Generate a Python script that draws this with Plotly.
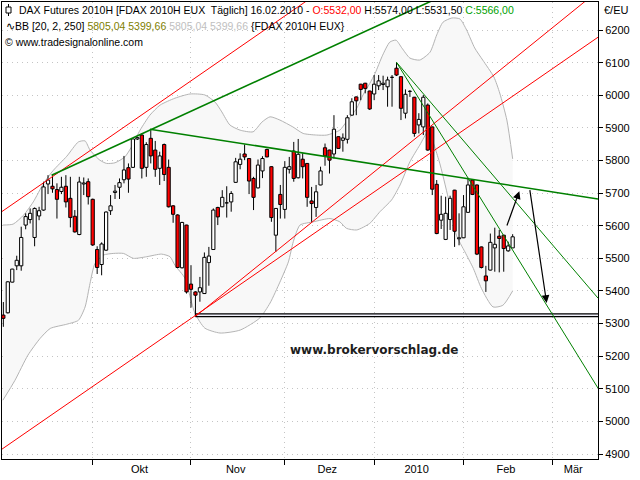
import plotly.graph_objects as go
import pandas as pd

# ---------------- data ----------------
opens = [5326, 5333, 5427, 5477, 5477, 5602, 5619, 5564, 5630, 5648,
         5728, 5721, 5711, 5705, 5721, 5684, 5629, 5573, 5728, 5735,
         5681, 5527, 5481, 5525, 5646, 5702, 5718, 5741, 5778, 5779,
         5866, 5878, 5779, 5868, 5832, 5776, 5849, 5779, 5661, 5633,
         5471, 5602, 5421, 5397, 5397, 5392, 5487, 5527, 5656, 5658,
         5670, 5673, 5733, 5788, 5820, 5806, 5745, 5716, 5768, 5834,
         5781, 5571, 5696, 5650, 5773, 5829, 5747, 5804, 5791, 5676,
         5656, 5725, 5839, 5832, 5820, 5873, 5862, 5865, 5939, 5995,
         6034, 6037, 6013, 6004, 6029, 6033, 6026, 6055, 6083, 6057,
         5945, 6012, 5994, 5909, 5903, 5970, 5903, 5727, 5617, 5558,
         5619, 5709, 5560, 5563, 5641, 5740, 5725, 5535, 5446, 5464,
         5532, 5568, 5571, 5523, 5532]
highs = [5366, 5430, 5468, 5508, 5597, 5638, 5653, 5656, 5658, 5735,
         5755, 5755, 5730, 5750, 5755, 5750, 5648, 5750, 5748, 5745,
         5683, 5537, 5549, 5644, 5694, 5725, 5745, 5814, 5791, 5868,
         5873, 5883, 5856, 5893, 5860, 5827, 5852, 5803, 5663, 5635,
         5612, 5603, 5479, 5399, 5443, 5518, 5535, 5653, 5658, 5709,
         5721, 5706, 5808, 5822, 5849, 5807, 5750, 5803, 5813, 5836,
         5782, 5654, 5725, 5798, 5811, 5857, 5866, 5822, 5792, 5719,
         5725, 5781, 5852, 5833, 5939, 5874, 5883, 5939, 5991, 5996,
         6035, 6038, 6014, 6062, 6062, 6060, 6057, 6062, 6101, 6058,
         6018, 6016, 5995, 5945, 6001, 5975, 5904, 5740, 5692, 5689,
         5692, 5710, 5638, 5694, 5747, 5743, 5726, 5536, 5477, 5576,
         5594, 5587, 5572, 5551, 5574]
lows = [5290, 5331, 5426, 5464, 5462, 5589, 5607, 5537, 5617, 5646,
        5697, 5701, 5622, 5697, 5656, 5595, 5579, 5571, 5694, 5665,
        5538, 5452, 5448, 5523, 5633, 5682, 5682, 5730, 5701, 5777,
        5863, 5745, 5750, 5791, 5750, 5725, 5737, 5656, 5609, 5470,
        5469, 5392, 5349, 5322, 5367, 5391, 5416, 5526, 5602, 5657,
        5625, 5643, 5732, 5773, 5801, 5697, 5648, 5714, 5746, 5810,
        5612, 5520, 5622, 5622, 5760, 5735, 5745, 5745, 5658, 5612,
        5627, 5724, 5784, 5760, 5806, 5836, 5827, 5852, 5938, 5939,
        5985, 6006, 5955, 5985, 6016, 6016, 5965, 5965, 6059, 5924,
        5929, 5995, 5873, 5883, 5878, 5830, 5694, 5574, 5590, 5556,
        5587, 5535, 5540, 5562, 5640, 5694, 5510, 5469, 5397, 5463,
        5459, 5457, 5459, 5520, 5531.5]
closes = [5316, 5428, 5467, 5494, 5564, 5628, 5638, 5653, 5646, 5719,
          5740, 5713, 5681, 5718, 5673, 5625, 5581, 5734, 5731, 5689,
          5541, 5472, 5544, 5642, 5661, 5706, 5732, 5771, 5743, 5866,
          5870, 5776, 5849, 5814, 5773, 5814, 5757, 5658, 5635, 5472,
          5610, 5397, 5405, 5387, 5410, 5503, 5507, 5648, 5627, 5687,
          5672, 5699, 5796, 5804, 5811, 5737, 5687, 5786, 5806, 5811,
          5625, 5653, 5665, 5779, 5781, 5745, 5819, 5781, 5687, 5668,
          5704, 5768, 5814, 5801, 5896, 5837, 5869, 5931, 5980, 5983,
          6018, 6021, 5958, 6034, 6044, 6037, 6047, 6057, 6062, 5960,
          6003, 6013, 5883, 5926, 5994, 5832, 5712, 5576, 5635, 5638,
          5684, 5583, 5563, 5658, 5725, 5696, 5513, 5472, 5431, 5549,
          5543, 5561, 5530, 5538, 5566]

# Bollinger band (20, 2): (bar index, value)
bb_upper_idx = [0.9, 3.2, 5.5, 7.7, 10.0, 12.2, 15.2, 17.8, 19.3, 20.4, 22.6, 24.1, 26.0,
                28.2, 29.7, 31.6, 33.8, 36.1, 39.4, 42.8, 46.1, 48.4, 49.9, 51.7, 54.0,
                56.9, 58.9, 60.7, 62.9, 65.8, 68.1, 71.1, 73.4, 76.3, 77.8, 80.1, 81.5,
                83.0, 84.2, 85.9, 87.5, 88.9, 90.2, 92.0, 94.2, 96.5, 98.0, 99.4, 101.4,
                103.2, 104.7, 106.5, 108.3, 110.8, 112.1, 113.7, 115.0]
bb_upper_val = [5602, 5605, 5632, 5673, 5730, 5770, 5813, 5857, 5860, 5832, 5801, 5791, 5793,
                5811, 5842, 5893, 5939, 5970, 5991, 6004, 6001, 5979, 5949, 5909, 5893,
                5888, 5918, 5934, 5924, 5903, 5883, 5878, 5878, 5893, 5919, 5960, 6001,
                6036, 6067, 6123, 6163, 6169, 6145, 6114, 6108, 6132, 6185, 6224, 6237,
                6234, 6200, 6145, 6108, 6056, 6007, 5924, 5805]
bb_lower_idx = [0.9, 3.6, 6.5, 9.2, 11.5, 15.2, 17.8, 19.3, 20.4, 21.5, 23.4, 25.6, 27.9,
                30.1, 33.1, 36.4, 38.3, 39.4, 41.7, 42.8, 43.9, 46.1, 49.5, 54.0, 58.4,
                60.7, 62.9, 64.8, 65.9, 67.4, 70.4, 74.1, 76.3, 77.8, 80.1, 83.0, 85.3,
                87.9, 89.8, 92.0, 94.2, 96.1, 98.5, 100.6, 102.4, 104.3, 106.2, 108.0,
                110.6, 112.8, 115.0]
bb_lower_val = [5065, 5126, 5203, 5254, 5285, 5298, 5310, 5351, 5423, 5484, 5510, 5515, 5515,
                5500, 5505, 5513, 5505, 5479, 5438, 5382, 5331, 5286, 5271, 5280, 5317,
                5363, 5427, 5489, 5551, 5602, 5612, 5622, 5612, 5592, 5587, 5607, 5643,
                5679, 5725, 5796, 5847, 5888, 5800, 5684, 5571, 5520, 5469, 5408,
                5351, 5356, 5400]

# drawn trend lines: (x0, y0, x1, y1) in bar index / price
red_lines = [(0.64, 5643, 70.0, 6300), (0.7, 4915, 134.1, 6178), (44.0, 5322, 135.0, 6330)]
green_thick = [(11.8, 5755, 100.0, 6309), (33.8, 5896, 134.1, 5682)]
green_thin = [(89.0, 6101, 134.1, 5378), (89.0, 6101, 134.1, 5102)]
support_box = (44.0, 5321, 136.0, 5330)
arrows = [(113.6, 5596, 116.5, 5706), (118.8, 5714, 122.6, 5363)]

holidays = ["2009-12-24", "2009-12-25", "2009-12-31", "2010-01-01"]
month_labels = ["Okt", "Nov", "Dez", "2010", "Feb", "Mär"]
y_ticks = list(range(4900, 6201, 100))
x_range = [0.7, 134.1]
y_range = [4884.7, 6286]
body_half = 0.36

# ---------------- derived ----------------
days = pd.bdate_range("2009-09-03", "2010-03-31")
days = days[~days.isin(pd.to_datetime(holidays))]
n = len(opens)
idx = list(range(1, n + 1))
periods = days.to_period("M")
month_starts = []
for p in periods.unique()[1:]:
    month_starts.append(int((periods == p).argmax()) + 1)
month_ends = month_starts[1:] + [x_range[1]]
label_pos = [(a + b) / 2 - 0.5 for a, b in zip(month_starts, month_ends)]

FONT = "Liberation Sans"
fig = go.Figure()

# BB fill + lines
fig.add_trace(go.Scatter(x=bb_upper_idx + bb_lower_idx[::-1],
                         y=bb_upper_val + bb_lower_val[::-1],
                         fill="toself", fillcolor="#f8f8f8",
                         line=dict(width=0), mode="lines", hoverinfo="skip"))
for xs, ys in [(bb_upper_idx, bb_upper_val), (bb_lower_idx, bb_lower_val)]:
    fig.add_trace(go.Scatter(x=xs, y=ys, mode="lines",
                             line=dict(color="#b4b4b4", width=1, shape="spline", smoothing=0.6)))

# candles: wicks then bodies (bodies as filled rectangles)
wx, wy = [], []
for i, h, l in zip(idx, highs, lows):
    wx += [i, i, None]
    wy += [l, h, None]
fig.add_trace(go.Scatter(x=wx, y=wy, mode="lines", line=dict(color="black", width=1)))
for up, fillc in [(True, "white"), (False, "#ff0000")]:
    bx, by = [], []
    for i, o, c in zip(idx, opens, closes):
        if (c >= o) != up:
            continue
        lo, hi = min(o, c), max(o, c)
        if hi - lo < 2:
            hi = lo + 2
        bx += [i - body_half, i + body_half, i + body_half, i - body_half, i - body_half, None]
        by += [lo, lo, hi, hi, lo, None]
    fig.add_trace(go.Scatter(x=bx, y=by, mode="lines", fill="toself", fillcolor=fillc,
                             line=dict(color="black", width=1)))

# support box
bx0, by0, bx1, by1 = support_box
fig.add_trace(go.Scatter(x=[bx0, bx1, bx1, bx0, bx0], y=[by0, by0, by1, by1, by0],
                         mode="lines", fill="toself", fillcolor="#eeeef8",
                         line=dict(color="black", width=1.2)))

for (x0, y0, x1, y1) in red_lines:
    fig.add_trace(go.Scatter(x=[x0, x1], y=[y0, y1], mode="lines",
                             line=dict(color="#ff0000", width=1)))
for (x0, y0, x1, y1) in green_thick:
    fig.add_trace(go.Scatter(x=[x0, x1], y=[y0, y1], mode="lines",
                             line=dict(color="#008000", width=1.6)))
for (x0, y0, x1, y1) in green_thin:
    fig.add_trace(go.Scatter(x=[x0, x1], y=[y0, y1], mode="lines",
                             line=dict(color="#008000", width=1)))

for (x0, y0, x1, y1) in arrows:
    fig.add_annotation(x=x1, y=y1, ax=x0, ay=y0, xref="x", yref="y", axref="x", ayref="y",
                       showarrow=True, arrowhead=2, arrowsize=1.3, arrowwidth=1.2,
                       arrowcolor="black", text="")

fig.add_annotation(x=83.9, y=5218, xref="x", yref="y", showarrow=False,
                   text="<b>www.brokervorschlag.de</b>",
                   font=dict(family="DejaVu Sans", size=12, color="#1e1e1e"))

# header texts (paper coords)
def px(xp):
    return (xp - 2) / 596.0

def py(yp):
    return 1 - (yp - 2) / 457.0

hdr_font = dict(family=FONT, size=10.5, color="black")
fig.add_annotation(x=px(17), y=py(10), xref="paper", yref="paper", xanchor="left", yanchor="middle",
                   showarrow=False, font=hdr_font,
                   text="DAX Futures 2010H [FDAX 2010H EUX  Täglich] 16.02.2010 - "
                        "<span style='color:#ff0000'>O:5532,00</span> H:5574,00 L:5531,50 "
                        "<span style='color:#00a000'>C:5566,00</span>")
fig.add_annotation(x=px(4), y=py(25.5), xref="paper", yref="paper", xanchor="left", yanchor="middle",
                   showarrow=False, font=hdr_font,
                   text="∿BB [20, 2, 250] <span style='color:#808000'>5805,04 5399,66</span> "
                        "<span style='color:#c0c0c0'>5805,04 5399,66</span> {FDAX 2010H EUX}")
fig.add_annotation(x=px(3), y=py(42), xref="paper", yref="paper", xanchor="left", yanchor="middle",
                   showarrow=False, font=hdr_font, text="© www.tradesignalonline.com")
fig.add_annotation(x=px(602), y=py(10), xref="paper", yref="paper", xanchor="left", yanchor="middle",
                   showarrow=False, font=dict(family=FONT, size=11, color="black"), text="€/EU")

# little candle icon in header
fig.add_shape(type="line", xref="paper", yref="paper", x0=px(8.5), x1=px(8.5), y0=py(4), y1=py(16),
              line=dict(color="black", width=1))
fig.add_shape(type="rect", xref="paper", yref="paper", x0=px(6), x1=px(11), y0=py(7), y1=py(13),
              line=dict(color="black", width=1), fillcolor="white")

grid_dash = "1px,4px"
fig.update_layout(
    width=640, height=480, margin=dict(l=2, r=42, t=2, b=21),
    paper_bgcolor="white", plot_bgcolor="white", showlegend=False,
    font=dict(family=FONT, size=11, color="black"),
    xaxis=dict(range=x_range,
               tickmode="array", tickvals=label_pos, ticktext=month_labels, ticks="",
               showgrid=False, zeroline=False,
               showline=True, linecolor="black", linewidth=1, mirror=True,
               tickfont=dict(family=FONT, size=11, color="black"),
               minor=dict(tickmode="array", tickvals=month_starts, ticks="outside", ticklen=5,
                          tickcolor="black", showgrid=True, gridcolor="#c4c4c4", griddash=grid_dash)),
    yaxis=dict(range=y_range, side="right", tickmode="array", tickvals=y_ticks,
               ticks="outside", ticklen=4, tickcolor="black",
               showgrid=True, gridcolor="#c4c4c4", griddash=grid_dash, zeroline=False,
               showline=True, linecolor="black", linewidth=1, mirror=True,
               tickfont=dict(family=FONT, size=11, color="black")),
)

fig.write_html("out.html")
